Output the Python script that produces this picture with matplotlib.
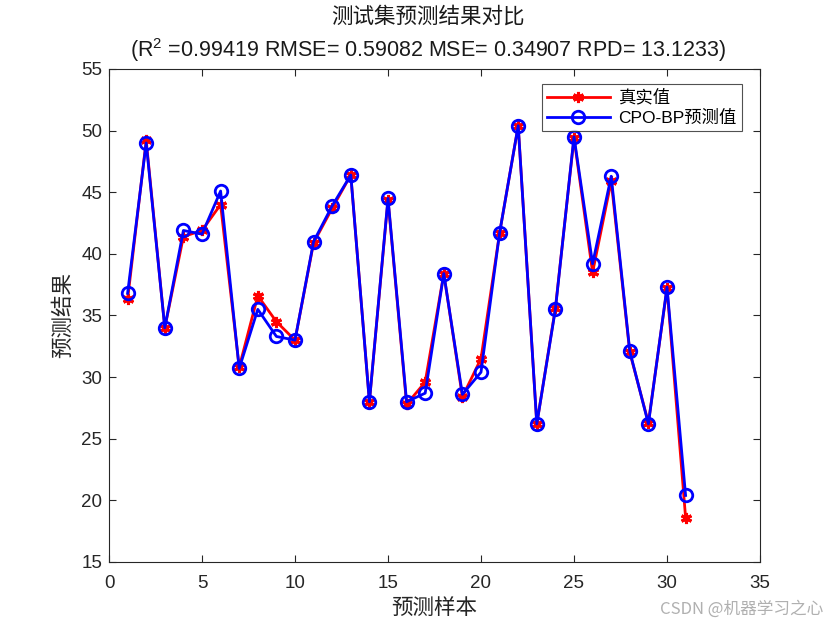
import matplotlib
matplotlib.use("Agg")
import matplotlib.pyplot as plt
import numpy as np

plt.rcParams['font.family'] = ['Liberation Sans', 'Noto Sans CJK SC', 'DejaVu Sans']
plt.rcParams['mathtext.fontset'] = 'custom'
plt.rcParams['mathtext.rm'] = 'Liberation Sans'
plt.rcParams['mathtext.it'] = 'Liberation Sans'

sample_idx = list(range(1, 32))
true_vals = [36.3, 49.2, 34.0, 41.4, 41.9, 44.0, 30.8, 36.6, 34.5, 33.0,
             40.9, 43.7, 46.4, 28.0, 44.4, 27.8, 29.6, 38.4, 28.4, 31.5,
             41.7, 50.4, 26.2, 35.6, 49.4, 38.5, 45.9, 32.0, 26.3, 37.2, 18.6]
pred_vals = [36.8, 49.0, 34.0, 41.9, 41.6, 45.1, 30.7, 35.5, 33.3, 33.0,
             41.0, 43.9, 46.4, 28.0, 44.5, 28.0, 28.7, 38.4, 28.6, 30.4,
             41.7, 50.4, 26.2, 35.5, 49.5, 39.2, 46.3, 32.1, 26.2, 37.3, 20.4]

title_line1 = '测试集预测结果对比'
title_line2 = r'(R$^2$ =0.99419 RMSE= 0.59082 MSE= 0.34907 RPD= 13.1233)'
xlabel = '预测样本'
ylabel = '预测结果'
legend_labels = ['真实值', 'CPO-BP预测值']
xticks = [0, 5, 10, 15, 20, 25, 30, 35]
yticks = [15, 20, 25, 30, 35, 40, 45, 50, 55]

fig = plt.figure(figsize=(8.4, 6.3), dpi=100)
ax = fig.add_axes([109/840, 68/630, 651/840, 493/630])

ax.plot(sample_idx, true_vals, color='red', linewidth=2, marker=(6, 2, 0),
        markersize=8, markeredgewidth=2.2, label=legend_labels[0])
ax.plot(sample_idx, pred_vals, color='blue', linewidth=2, marker='o',
        markersize=9, markerfacecolor='none', markeredgewidth=2,
        label=legend_labels[1])

ax.set_xlim(0, 35)
ax.set_ylim(15, 55)
ax.set_xticks(xticks)
ax.set_yticks(yticks)
ax.tick_params(direction='in', top=True, right=True, labelsize=13.5,
               length=5, width=0.8, colors='#262626', labelcolor='#262626', pad=5)
ax.tick_params(axis='x', pad=9)
for s in ax.spines.values():
    s.set_linewidth(0.8)
    s.set_color('#262626')

ax.set_xlabel(xlabel, fontsize=15.5, family=['Noto Sans CJK SC'], color='#262626', labelpad=4)
ax.set_ylabel(ylabel, fontsize=15.5, family=['Noto Sans CJK SC'], color='#262626', labelpad=5)

fig.text(0.51, 1 - 17/630, title_line1, ha='center', va='center', fontsize=15.5,
         family=['Noto Sans CJK SC'], color='#1a1a1a')
fig.text(0.51, 1 - 50/630, title_line2, ha='center', va='center', fontsize=15.5,
         color='#1a1a1a')

leg = ax.legend(loc='upper right', bbox_to_anchor=(0.972, 0.97), fontsize=12.5,
                frameon=True, fancybox=False, edgecolor='#262626',
                borderpad=0.3, handlelength=3.6, handletextpad=0.5,
                labelspacing=0.25, borderaxespad=0)
leg.get_frame().set_linewidth(0.8)
for t in leg.get_texts():
    t.set_family(['Liberation Sans', 'Noto Sans CJK SC'])

fig.text(0.98, 0.02, 'CSDN @机器学习之心', ha='right', va='bottom', fontsize=12,
         color='#b0b0b0', family=['Noto Sans CJK SC'])

fig.savefig('out.png', dpi=100, facecolor='white')
